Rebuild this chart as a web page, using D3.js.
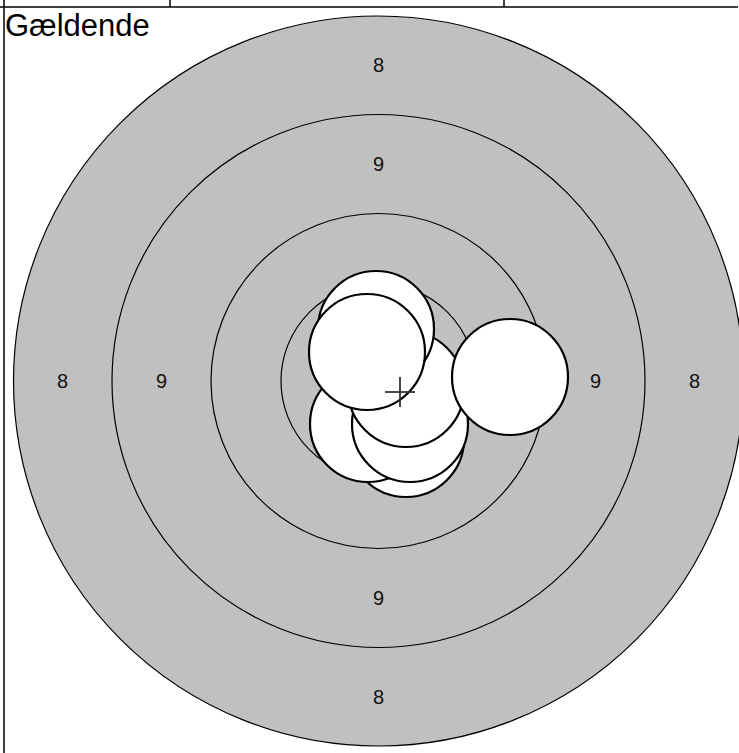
<!DOCTYPE html>
<html>
<head>
<meta charset="utf-8">
<script src="https://cdn.jsdelivr.net/npm/d3@7"></script>
<style>
  body { margin: 0; background: #fff; }
  svg { display: block; }
  text { font-family: "Liberation Sans", Arial, sans-serif; }
</style>
</head>
<body>
<div id="container"></div>
<script>
//Width and height
var w = 739;
var h = 753;

//target centre in page pixels
var cx = 378.5;
var cy = 381;

//ring radii (target units, outer ring first)
var ringRadii = [36.5, 26.65, 16.75, 9.75];

//ring labels: value and radius where the label sits
var ringLabels = ['8', '9'];
var labelRadii = [31.6, 21.7];

//shots in drawing order (x right, y up, target units)
var shotX = [2.75, -1.05, 3.15, 2.75, -0.25, -1.15, 13.15];
var shotY = [-5.8, -4.3, -4.3, -0.8, 5.2, 2.9, 0.4];
var shotRadius = 5.8;

//group centre cross
var centreX = [2.15];
var centreY = [-1.1];

//header cell dividers
var headerCells = [170, 504];

//scales: 1 unit = 10px
var x = d3.scaleLinear().domain([-40, 40]).range([cx - 400, cx + 400]);
var y = d3.scaleLinear().domain([-40, 40]).range([cy + 400, cy - 400]);
var r = d3.scaleLinear().domain([0, 40]).range([0, 400]);

//create SVG
var svg = d3.select('#container')
    .append('svg')
    .attr('width', w)
    .attr('height', h);

//target rings
svg.selectAll('circle.ring')
    .data(ringRadii)
    .enter()
    .append('circle')
    .attr('class', 'ring')
    .attr('cx', x(0))
    .attr('cy', y(0))
    .attr('r', function(d) { return r(d); })
    .attr('fill', function(d, i) { return i === 0 ? '#c0c0c0' : 'none'; })
    .attr('stroke', '#000')
    .attr('stroke-width', 1.2);

//ring numbers on four sides
var labelData = [];
ringLabels.forEach(function(t, i) {
    [[0, 1], [0, -1], [-1, 0], [1, 0]].forEach(function(dir) {
        labelData.push({ text: t, x: dir[0] * labelRadii[i], y: dir[1] * labelRadii[i] });
    });
});

svg.selectAll('text.ringlabel')
    .data(labelData)
    .enter()
    .append('text')
    .attr('class', 'ringlabel')
    .attr('x', function(d) { return x(d.x); })
    .attr('y', function(d) { return y(d.y); })
    .attr('dy', '0.36em')
    .attr('text-anchor', 'middle')
    .style('font-size', '20px')
    .attr('fill', '#111')
    .text(function(d) { return d.text; });

//shots
svg.selectAll('circle.shot')
    .data(shotX)
    .enter()
    .append('circle')
    .attr('class', 'shot')
    .attr('cx', function(d) { return x(d); })
    .attr('cy', function(d, i) { return y(shotY[i]); })
    .attr('r', r(shotRadius))
    .attr('fill', '#fff')
    .attr('stroke', '#000')
    .attr('stroke-width', 2.2);

//centre cross
var arm = r(1.5);
centreX.forEach(function(d, i) {
    var px = x(d), py = y(centreY[i]);
    svg.append('line')
        .attr('x1', px - arm).attr('x2', px + arm)
        .attr('y1', py).attr('y2', py)
        .attr('stroke', '#333').attr('stroke-width', 1.8);
    svg.append('line')
        .attr('x1', px).attr('x2', px)
        .attr('y1', py - arm).attr('y2', py + arm)
        .attr('stroke', '#333').attr('stroke-width', 1.8);
});

//header frame
svg.append('line')
    .attr('x1', 0).attr('x2', 738)
    .attr('y1', 7).attr('y2', 7)
    .attr('stroke', '#000').attr('stroke-width', 1.5);

svg.selectAll('line.cell')
    .data(headerCells)
    .enter()
    .append('line')
    .attr('class', 'cell')
    .attr('x1', function(d) { return d; })
    .attr('x2', function(d) { return d; })
    .attr('y1', 0).attr('y2', 7)
    .attr('stroke', '#000').attr('stroke-width', 1.5);

svg.append('line')
    .attr('x1', 4).attr('x2', 4)
    .attr('y1', 0).attr('y2', h)
    .attr('stroke', '#000').attr('stroke-width', 1.5);

//title
svg.append('text')
    .attr('x', 5)
    .attr('y', 36)
    .style('font-size', '31px')
    .attr('fill', '#000')
    .text('Gældende');
</script>
</body>
</html>
